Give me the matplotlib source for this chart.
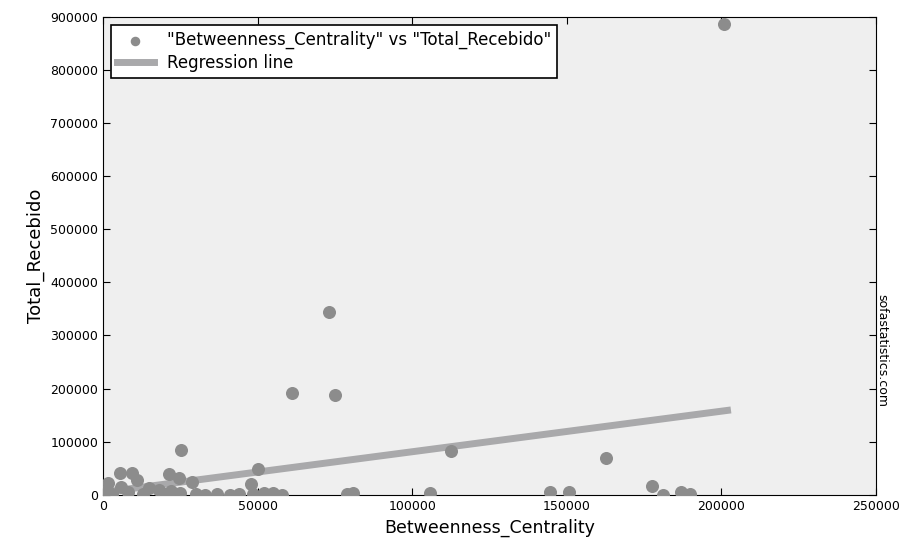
import matplotlib
matplotlib.use('Agg')
import matplotlib.pyplot as plt

# pontos
bc = [201000, 73000, 61000, 75000, 112500, 162700, 25200, 50000, 177600,
      105800, 144500, 150700, 181000, 187000, 190000, 79000, 81000,
      5500, 9400, 21400, 24600, 28800, 48000, 1600, 11000,
      0, 3000, 8000, 13000, 18000, 20000, 25000, 30000, 33000, 37000,
      41000, 44000, 48500, 52000, 55000, 58000, 15000, 6000, 22000]
total = [887000, 345000, 192000, 188000, 83000, 70000, 85000, 49000, 17000,
         4000, 5000, 5000, 0, 6000, 2000, 1000, 3000,
         41000, 41000, 40000, 32000, 25000, 21000, 22000, 28000,
         3000, 1000, 5000, 2000, 10000, 1000, 3000, 2000, 0, 1000,
         0, 1000, 2000, 3000, 4000, 0, 12000, 15000, 8000]

reg_x = [0, 202000]
reg_y = [4800, 159000]

fig = plt.figure(figsize=(9.03, 5.42), dpi=100)
ax = fig.add_axes([0.114, 0.087, 0.856, 0.882])
ax.set_facecolor('#efefef')

ax.scatter(bc, total, s=70, color='#8c8c8c', zorder=3,
           label='"Betweenness_Centrality" vs "Total_Recebido"')
ax.plot(reg_x, reg_y, color='#a9a9ab', linewidth=5, zorder=2,
        label='Regression line')

ax.set_xlim(0, 250000)
ax.set_ylim(0, 900000)
ax.set_xticks([0, 50000, 100000, 150000, 200000, 250000])
ax.set_yticks(range(0, 900001, 100000))
ax.tick_params(direction='in', top=True, right=True, labelsize=9, length=5)
ax.set_xlabel('Betweenness_Centrality', fontsize=12.5, labelpad=4)
ax.set_ylabel('Total_Recebido', fontsize=13)

leg = ax.legend(loc='upper left', fontsize=12, fancybox=False,
                framealpha=1, edgecolor='black', borderaxespad=0.5,
                markerscale=0.7, handlelength=2.2, labelspacing=0.3,
                borderpad=0.35)
leg.get_frame().set_linewidth(1.2)

fig.text(0.976, 0.354, 'sofastatistics.com', rotation=-90, fontsize=9,
         ha='center', va='center')

plt.savefig('out.png', dpi=100)
